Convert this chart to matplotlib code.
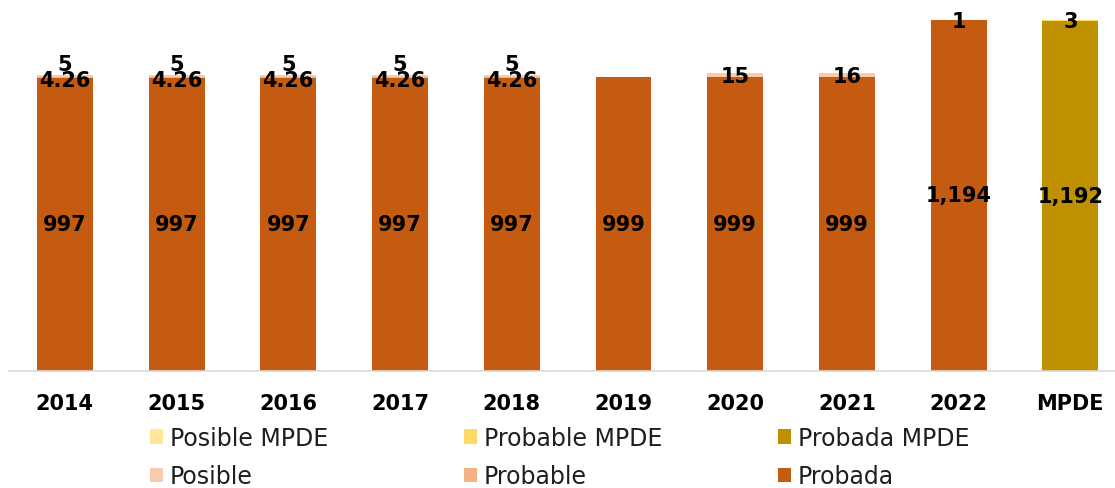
import matplotlib
matplotlib.use("Agg")
import matplotlib.pyplot as plt
import numpy as np

# ---  DATA  --- #
Categories = ["2014", "2015", "2016", "2017", "2018", "2019", "2020", "2021", "2022", "MPDE"]
Probada = [997, 997, 997, 997, 997, 999, 999, 999, 1194, 0]
Probable = [4.26, 4.26, 4.26, 4.26, 4.26, 0, 0, 0, 1, 0]
Posible = [5, 5, 5, 5, 5, 0, 15, 16, 0, 0]
Probada_mpde = [0, 0, 0, 0, 0, 0, 0, 0, 0, 1192]
Probable_mpde = [0, 0, 0, 0, 0, 0, 0, 0, 0, 3]
Posible_mpde = [0, 0, 0, 0, 0, 0, 0, 0, 0, 0]

Probada_lbl = ["997", "997", "997", "997", "997", "999", "999", "999", "1,194", ""]
Probable_lbl = ["4.26", "4.26", "4.26", "4.26", "4.26", "", "", "", "1", ""]
Posible_lbl = ["5", "5", "5", "5", "5", "", "15", "16", "", ""]
Probada_mpde_lbl = ["", "", "", "", "", "", "", "", "", "1,192"]
Probable_mpde_lbl = ["", "", "", "", "", "", "", "", "", "3"]

# Colours
C_probada = "#C55A11"
C_probable = "#F4B183"
C_posible = "#F8CBAD"
C_probada_m = "#BF9000"
C_probable_m = "#FFD966"
C_posible_m = "#FFE699"

# ---  FIGURE  --- #
fig = plt.figure(figsize=(11.15, 4.89), dpi=100)
ax = fig.add_axes([9 / 1115, 1 - 372 / 489, 1106 / 1115, (372 - 19.2) / 489])

x = np.arange(len(Categories))
w = 0.5

b_probada = ax.bar(x, Probada, w, color=C_probada, label="Probada")
base = np.array(Probada, dtype=float)
b_probable = ax.bar(x, Probable, w, bottom=base, color=C_probable, label="Probable")
base2 = base + np.array(Probable)
b_posible = ax.bar(x, Posible, w, bottom=base2, color=C_posible, label="Posible")
b_probada_m = ax.bar(x, Probada_mpde, w, color=C_probada_m, label="Probada MPDE")
basem = np.array(Probada_mpde, dtype=float)
b_probable_m = ax.bar(x, Probable_mpde, w, bottom=basem, color=C_probable_m, label="Probable MPDE")
basem2 = basem + np.array(Probable_mpde)
b_posible_m = ax.bar(x, Posible_mpde, w, bottom=basem2, color=C_posible_m, label="Posible MPDE")

# Labels
lbl_kw = dict(ha="center", va="center", fontsize=15, fontweight="bold", color="black")
for i in x:
    if Probada_lbl[i]:
        ax.text(i, Probada[i] / 2, Probada_lbl[i], **lbl_kw)
    if Probada_mpde_lbl[i]:
        ax.text(i, Probada_mpde[i] / 2, Probada_mpde_lbl[i], **lbl_kw)
    if Probable_lbl[i]:
        dy = -3 if Posible[i] else -1
        ax.annotate(Probable_lbl[i], (i, base[i] + Probable[i] / 2), xytext=(0, dy),
                    textcoords="offset pixels", **lbl_kw)
    if Posible_lbl[i]:
        dy = 12 if Probable[i] else -1
        ax.annotate(Posible_lbl[i], (i, base2[i] + Posible[i] / 2), xytext=(0, dy),
                    textcoords="offset pixels", **lbl_kw)
    if Probable_mpde_lbl[i]:
        ax.annotate(Probable_mpde_lbl[i], (i, basem[i] + Probable_mpde[i] / 2), xytext=(0, -1),
                    textcoords="offset pixels", **lbl_kw)

ax.set_xlim(-0.5, 9.4)
ax.set_ylim(0, 1200)
ax.set_xticks(x)
ax.set_xticklabels(Categories, fontsize=15, fontweight="bold")
ax.tick_params(axis="x", length=0, pad=16)
ax.set_yticks([])
for s in ["top", "right", "left"]:
    ax.spines[s].set_visible(False)
ax.spines["bottom"].set_color("#D9D9D9")
ax.spines["bottom"].set_linewidth(1.2)

# Legend: three columns, each placed at its own left edge
cols = [[b_posible_m, b_posible], [b_probable_m, b_probable], [b_probada_m, b_probada]]
col_x = [150, 464, 778]
for hs, cx in zip(cols, col_x):
    leg = fig.legend(handles=hs, labels=[h.get_label() for h in hs], ncol=1,
                     loc="center left", bbox_to_anchor=(cx / 1115, 1 - 458 / 489),
                     frameon=False, fontsize=17, handlelength=0.55, handleheight=0.55,
                     handletextpad=0.3, labelspacing=0.6, borderpad=0, borderaxespad=0,
                     labelcolor="#1F1F1F")

fig.savefig("out.png", dpi=100)
